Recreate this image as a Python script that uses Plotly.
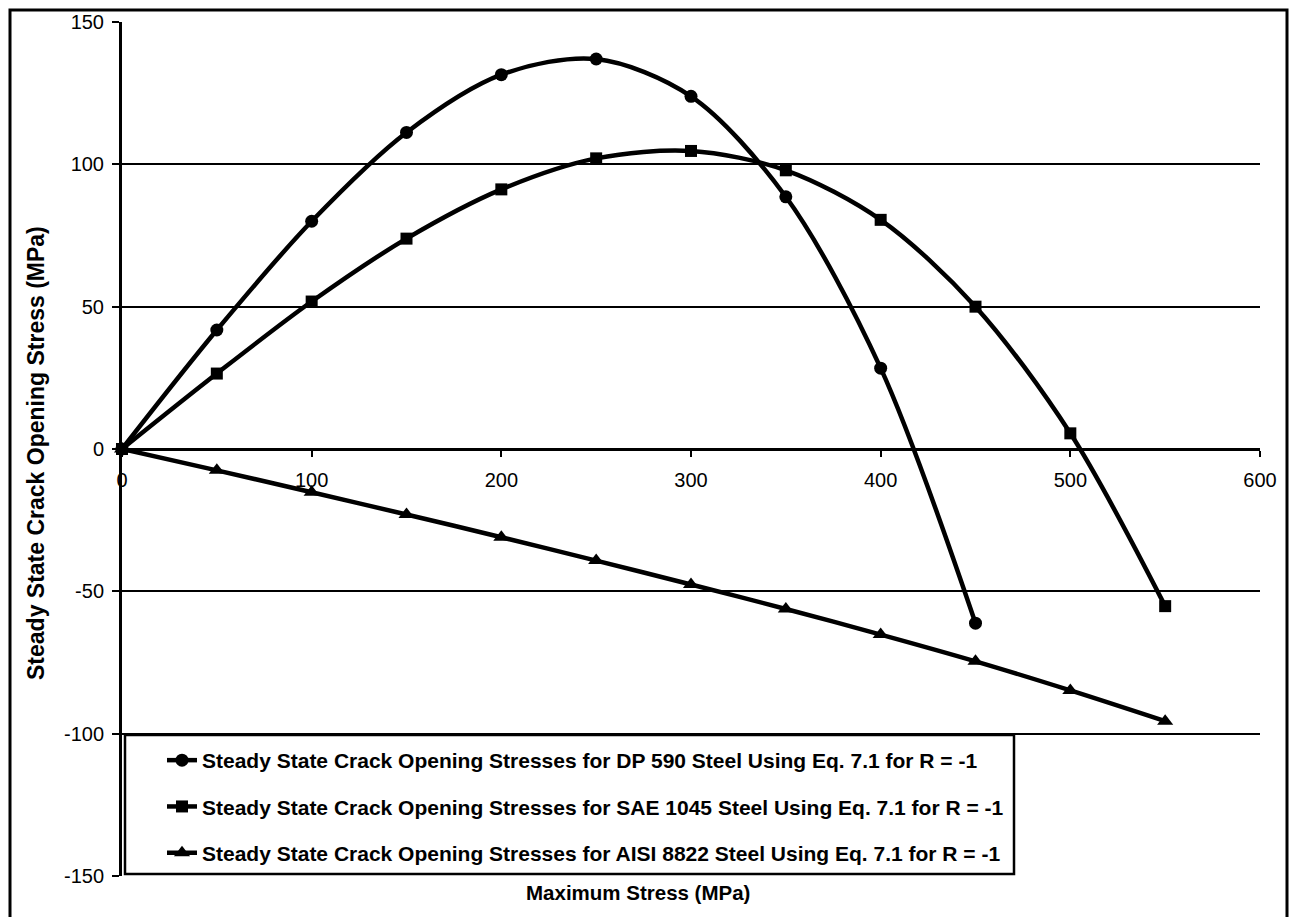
import plotly.graph_objects as go

# Maximum stress levels (MPa)
max_stress = [0, 50, 100, 150, 200, 250, 300, 350, 400, 450, 500, 550]

# Steady state crack opening stresses (MPa), Eq. 7.1, R = -1
dp590 = [0, 41.8, 80.0, 111.2, 131.5, 137.0, 123.9, 88.6, 28.4, -61.2]
sae1045 = [0, 26.5, 51.8, 73.9, 91.2, 102.1, 104.7, 97.9, 80.5, 50.0, 5.5, -55.2]
aisi8822 = [0, -7.5, -15.2, -23.0, -31.0, -39.2, -47.6, -56.2, -65.2, -74.6, -84.8, -95.6]

series_names = [
    "Steady State Crack Opening Stresses for DP 590 Steel Using Eq. 7.1 for R = -1",
    "Steady State Crack Opening Stresses for SAE 1045 Steel Using Eq. 7.1 for R = -1",
    "Steady State Crack Opening Stresses for AISI 8822 Steel Using Eq. 7.1 for R = -1",
]

y_ticks = [-150, -100, -50, 0, 50, 100, 150]
y_tick_text = ["-150", "-100", "-50", "0", "50", "100", "150"]
x_ticks = [0, 100, 200, 300, 400, 500, 600]

FONT = "Arial, Liberation Sans, sans-serif"
W, H = 1291, 917
L, R, T, B = 122, 31, 22, 41
PW, PH = W - L - R, H - T - B


def fx(px):
    return (px - L) / PW


def fy(py):
    return (H - B - py) / PH


fig = go.Figure()

data = [
    (max_stress[:len(dp590)], dp590, "circle", 13),
    (max_stress, sae1045, "square", 12),
    (max_stress, aisi8822, "triangle-up", 14),
]
for i, ((xs, ys, sym, size), name) in enumerate(zip(data, series_names)):
    fig.add_trace(go.Scatter(
        x=xs, y=ys, name=name, mode="lines+markers",
        line=dict(color="black", width=4.5, shape="spline", smoothing=0.9),
        marker=dict(symbol=sym, size=size, color="black"),
        cliponaxis=False, legendgroup=f"g{i}",
    ))

# outer frame around the whole chart
fig.add_shape(type="rect", xref="paper", yref="paper",
              x0=fx(10), x1=fx(1287), y0=fy(940), y1=fy(10),
              line=dict(color="black", width=3), layer="below")
# legend box
fig.add_shape(type="rect", xref="paper", yref="paper",
              x0=fx(125), x1=fx(1014), y0=fy(874), y1=fy(735),
              line=dict(color="black", width=2.5), fillcolor="white", layer="above")

fig.update_layout(
    width=W, height=H,
    margin=dict(l=L, r=R, t=T, b=B),
    paper_bgcolor="white", plot_bgcolor="white",
    font=dict(family=FONT, color="black", size=20),
    showlegend=True,
    legend=dict(
        x=fx(162), y=fy(740), xanchor="left", yanchor="top",
        bgcolor="rgba(0,0,0,0)", borderwidth=0,
        font=dict(family=FONT, size=21, color="black", weight="bold"),
        tracegroupgap=16, itemwidth=30,
    ),
    xaxis=dict(
        range=[0, 600], tickvals=x_ticks, ticks="outside", ticklen=6,
        tickwidth=2, tickcolor="black", showgrid=False, zeroline=False,
        showline=True, linecolor="black", linewidth=3,
        anchor="free", position=0.5, ticklabelstandoff=6,
        tickfont=dict(family=FONT, size=20),
    ),
    yaxis=dict(
        range=[-150, 150], tickvals=y_ticks, ticktext=y_tick_text,
        ticks="outside", ticklen=7,
        tickwidth=2, tickcolor="black", showgrid=True, gridcolor="black",
        gridwidth=2, zeroline=False, showline=True, linecolor="black",
        linewidth=3, tickfont=dict(family=FONT, size=20),
        ticklabelstandoff=4,
    ),
    annotations=[
        dict(text="<b>Maximum Stress (MPa)</b>", xref="paper", yref="paper",
             x=fx(638), y=fy(892), xanchor="center", yanchor="middle",
             showarrow=False, font=dict(family=FONT, size=20.5)),
        dict(text="<b>Steady State Crack Opening Stress (MPa)</b>",
             xref="paper", yref="paper", x=fx(36), y=fy(453),
             xanchor="center", yanchor="middle",
             textangle=-90, showarrow=False, font=dict(family=FONT, size=23)),
    ],
)

fig.write_html("out.html")
